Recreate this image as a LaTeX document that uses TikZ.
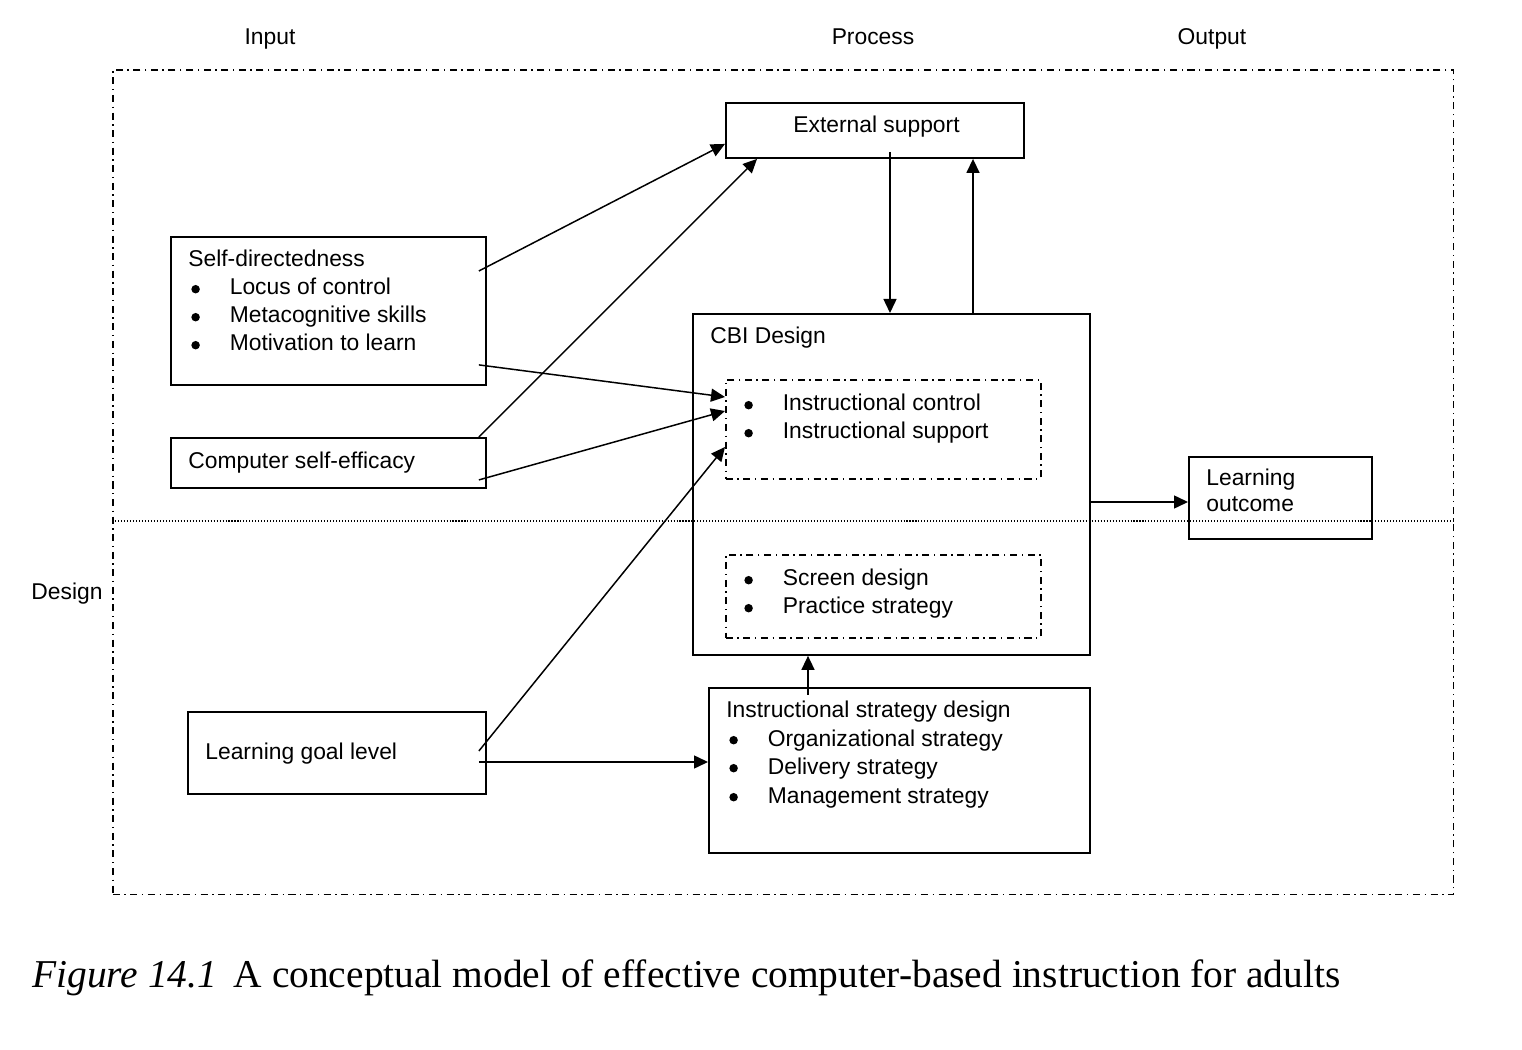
\documentclass[tikz,border=0pt]{standalone}
\usepackage{fontspec}
\setmainfont{Liberation Sans}
\newfontfamily\capfont{Liberation Serif}
\usetikzlibrary{arrows.meta,calc}
\newcommand\blt[1]{\makebox[0.77cm][l]{\tikz[baseline=-3.3pt]\fill (0.09cm,0) circle (0.085cm);}#1}
\begin{document}
\begin{tikzpicture}[x=0.02cm,y=-0.02cm,
  box/.style={draw,line width=1.1pt,inner sep=0pt,anchor=north west},
  dbox/.style={draw,line width=0.9pt,dash pattern=on 4pt off 2.6pt on 0.8pt off 2.6pt,inner sep=0pt,anchor=north west},
  txt/.style={anchor=base west,inner sep=0pt,font=\fontsize{13}{15}\selectfont},
  ctxt/.style={anchor=base,inner sep=0pt,font=\fontsize{13}{15}\selectfont},
  arr/.style={line width=0.85pt,-{Triangle[length=0.28cm,width=0.26cm]}}]
\useasboundingbox (0,0) rectangle (1522,1050);

% outer frame and divider
\node[dbox,minimum width=26.82cm,minimum height=16.5cm] (frame) at (112,69) {};
\draw[line width=0.6pt,dash pattern=on 0.6pt off 1.1pt] (frame.west |- 0,521) coordinate (dl) -- (dl -| frame.east);

% headings
\node[ctxt] (hin) at (270,45) {Input};
\node[ctxt] (hpr) at (873,45) {Process};
\node[ctxt] (hout) at (1212,45) {Output};
\node[ctxt] (hdes) at (67,600) {Design};

% boxes
\node[box,minimum width=5.96cm,minimum height=1.1cm] (es) at (725,102) {};
\node[txt] (est) at (793,133) {External support};

\node[box,minimum width=6.3cm,minimum height=2.96cm] (sd) at (170,236) {};
\node[txt] (sd1) at (188,267) {Self-directedness};
\node[txt] (sd2) at (191,295) {\blt{Locus of control}};
\node[txt] (sd3) at (191,323) {\blt{Metacognitive skills}};
\node[txt] (sd4) at (191,351) {\blt{Motivation to learn}};

\node[box,minimum width=6.3cm,minimum height=1.0cm] (cse) at (170,437) {};
\node[txt] (cset) at (188,469) {Computer self-efficacy};

\node[box,minimum width=5.96cm,minimum height=1.64cm] (lgl) at (187,711) {};
\node[txt] (lglt) at (205,759) {Learning goal level};

\node[box,minimum width=7.94cm,minimum height=6.82cm] (cbi) at (692,313) {};
\node[txt] (cbit) at (710,344) {CBI Design};

\node[dbox,minimum width=6.3cm,minimum height=1.98cm] (ib1) at (725,379) {};
\node[txt] (ib1a) at (744,411) {\blt{Instructional control}};
\node[txt] (ib1b) at (744,439) {\blt{Instructional support}};

\node[dbox,minimum width=6.3cm,minimum height=1.66cm] (ib2) at (725,554) {};
\node[txt] (ib2a) at (744,586) {\blt{Screen design}};
\node[txt] (ib2b) at (744,614) {\blt{Practice strategy}};

\node[box,minimum width=3.66cm,minimum height=1.64cm] (lo) at (1188,456) {};
\node[txt] (loa) at (1206,486) {Learning};
\node[txt] (lob) at (1206,512) {outcome};

\node[box,minimum width=7.62cm,minimum height=3.3cm] (isd) at (708,687) {};
\node[txt] (isd1) at (726,718) {Instructional strategy design};
\node[txt] (isd2) at (729,746) {\blt{Organizational strategy}};
\node[txt] (isd3) at (729,774) {\blt{Delivery strategy}};
\node[txt] (isd4) at (729,803) {\blt{Management strategy}};

% connectors
\draw[arr] ($(sd.north east)+(-8,35)$) -- ($(es.south west)+(0,-15)$);
\draw[arr] ($(cse.north east)+(-8,0)$) -- ($(es.south west)+(32,0)$);
\draw[arr] ($(sd.south east)+(-8,-21)$) -- ($(ib1.north west)+(0,18)$);
\draw[arr] ($(cse.south east)+(-8,-9)$) -- ($(ib1.north west)+(0,32)$);
\draw[arr] ($(lgl.north east)+(-8,40)$) -- ($(ib1.north west)+(0,68)$);
\coordinate (lg6) at ($(lgl.north east)+(-8,51)$);
\draw[arr] (lg6) -- (lg6 -| isd.west);
\draw[arr] ($(es.south west)+(165,-7)$) coordinate (esd) -- (esd |- cbi.north);
\draw[arr] ($(cbi.north west)+(281,0)$) coordinate (cbu) -- (cbu |- es.south);
\coordinate (cbr) at ($(cbi.north east)+(0,189)$);
\draw[arr] (cbr) -- (cbr -| lo.west);
\draw[arr] ($(isd.north west)+(100,8)$) coordinate (isu) -- (isu |- cbi.south);

% caption
\node[anchor=base west,inner sep=0pt,font=\capfont\fontsize{22.45}{26}\selectfont] (cap) at (32,987) {\textit{Figure 14.1}\hspace{0.42em}A conceptual model of effective computer-based instruction for adults};
\end{tikzpicture}
\end{document}
